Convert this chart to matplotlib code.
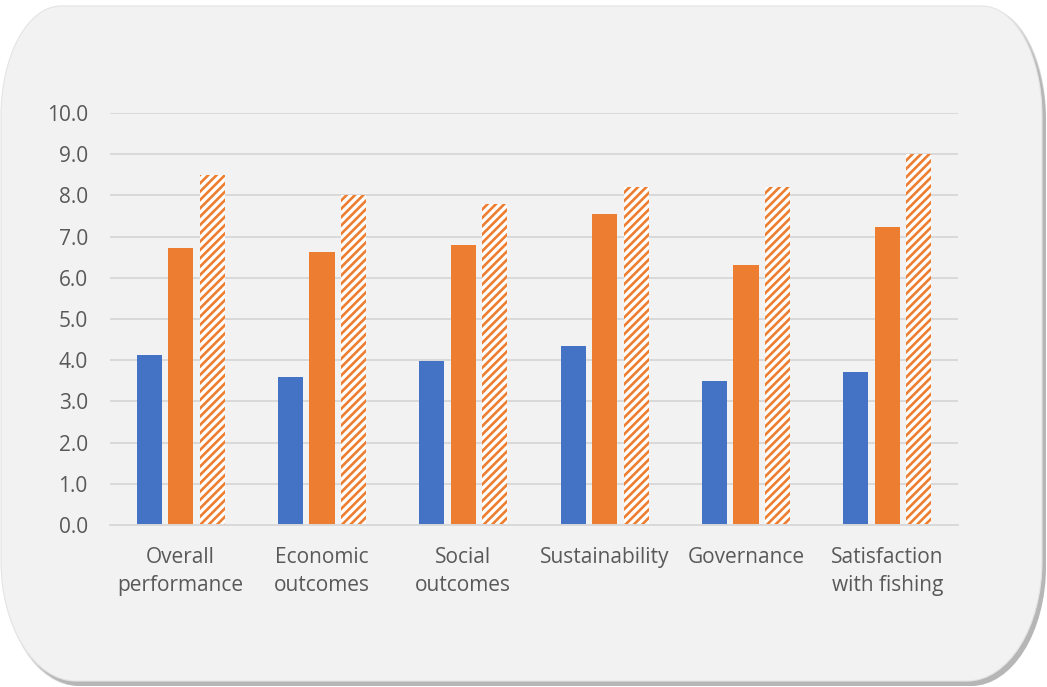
import matplotlib
matplotlib.use("Agg")
import matplotlib.pyplot as plt
import numpy as np
from matplotlib.path import Path
from matplotlib.patches import PathPatch

categories = ["Overall\nperformance", "Economic\noutcomes", "Social\noutcomes",
              "Sustainability", "Governance", "Satisfaction\nwith fishing"]
series_a = [4.13, 3.59, 3.98, 4.34, 3.50, 3.71]
series_b = [6.73, 6.62, 6.80, 7.56, 6.31, 7.24]
series_c = [8.50, 8.00, 7.80, 8.20, 8.20, 9.00]
y_ticks = [0.0, 1.0, 2.0, 3.0, 4.0, 5.0, 6.0, 7.0, 8.0, 9.0, 10.0]

BLUE = "#4472c4"
ORANGE = "#ed7d31"
GRID = "#d9d9d9"
TEXT = "#595959"

plt.rcParams["font.family"] = ["Open Sans", "DejaVu Sans"]
plt.rcParams["hatch.linewidth"] = 1.9
plt.rcParams["hatch.color"] = ORANGE

fig = plt.figure(figsize=(10.47, 6.87), dpi=100)
fig.patch.set_facecolor("white")


def rounded_panel(x0, y0, x1, y1, rx_t, ry_t, rx_b, ry_b):
    k = 0.5523
    verts = [
        (x0 + rx_b, y0),
        (x1 - rx_b, y0),
        (x1 - rx_b + k * rx_b, y0), (x1, y0 + ry_b - k * ry_b), (x1, y0 + ry_b),
        (x1, y1 - ry_t),
        (x1, y1 - ry_t + k * ry_t), (x1 - rx_t + k * rx_t, y1), (x1 - rx_t, y1),
        (x0 + rx_t, y1),
        (x0 + rx_t - k * rx_t, y1), (x0, y1 - ry_t + k * ry_t), (x0, y1 - ry_t),
        (x0, y0 + ry_b),
        (x0, y0 + ry_b - k * ry_b), (x0 + rx_b - k * rx_b, y0), (x0 + rx_b, y0),
        (x0 + rx_b, y0),
    ]
    codes = [Path.MOVETO, Path.LINETO,
             Path.CURVE4, Path.CURVE4, Path.CURVE4,
             Path.LINETO,
             Path.CURVE4, Path.CURVE4, Path.CURVE4,
             Path.LINETO,
             Path.CURVE4, Path.CURVE4, Path.CURVE4,
             Path.LINETO,
             Path.CURVE4, Path.CURVE4, Path.CURVE4,
             Path.CLOSEPOLY]
    return Path(verts, codes)


W, H = 1047.0, 687.0
def fx(px):
    return px / W
def fy(py):
    return 1 - py / H

# soft drop shadow under the panel
for i, a in enumerate([0.10, 0.12, 0.16, 0.24]):
    off = 4 - i
    sp = rounded_panel(fx(2 + off), fy(686), fx(1046), fy(6 + 2 * off),
                       fx(60), 110 / H, fx(75), 120 / H)
    fig.patches.append(PathPatch(sp, transform=fig.transFigure, zorder=-3,
                                 facecolor="#6f6f6f", edgecolor="none", alpha=a))
panel = rounded_panel(fx(1), fy(681), fx(1042), fy(6),
                      fx(60), 110 / H, fx(75), 120 / H)
fig.patches.append(PathPatch(panel, transform=fig.transFigure, zorder=-2,
                             facecolor="#f2f2f2", edgecolor="#e4e4e4", linewidth=0.8))

ax = fig.add_axes([fx(110), fy(525), fx(958) - fx(110), fy(113) - fy(525)])
ax.set_zorder(2)
ax.set_facecolor("none")

x = np.arange(len(categories))
w = 0.177
off = 0.223
ax.bar(x - off, series_a, width=w, color=BLUE, zorder=3)
ax.bar(x, series_b, width=w, color=ORANGE, zorder=3)
ax.bar(x + off, series_c, width=w, color="white", hatch="////",
       edgecolor=ORANGE, linewidth=0, zorder=3)

ax.set_xlim(-0.5, len(categories) - 0.5)
ax.set_ylim(0, 10)
ax.set_yticks(y_ticks)
ax.set_yticklabels([f"{v:.1f}" for v in y_ticks])
ax.set_xticks(x)
ax.set_xticklabels(categories, linespacing=1.45)
ax.grid(axis="y", color=GRID, linewidth=1.4, zorder=0)
for s in ["top", "right", "left"]:
    ax.spines[s].set_visible(False)
ax.spines["bottom"].set_color(GRID)
ax.spines["bottom"].set_linewidth(1.4)
ax.spines["bottom"].set_zorder(4)
ax.tick_params(axis="both", length=0, colors=TEXT, labelsize=15)
ax.tick_params(axis="y", pad=16)
ax.tick_params(axis="x", pad=16)

fig.savefig("out.png", dpi=100, facecolor="white")
